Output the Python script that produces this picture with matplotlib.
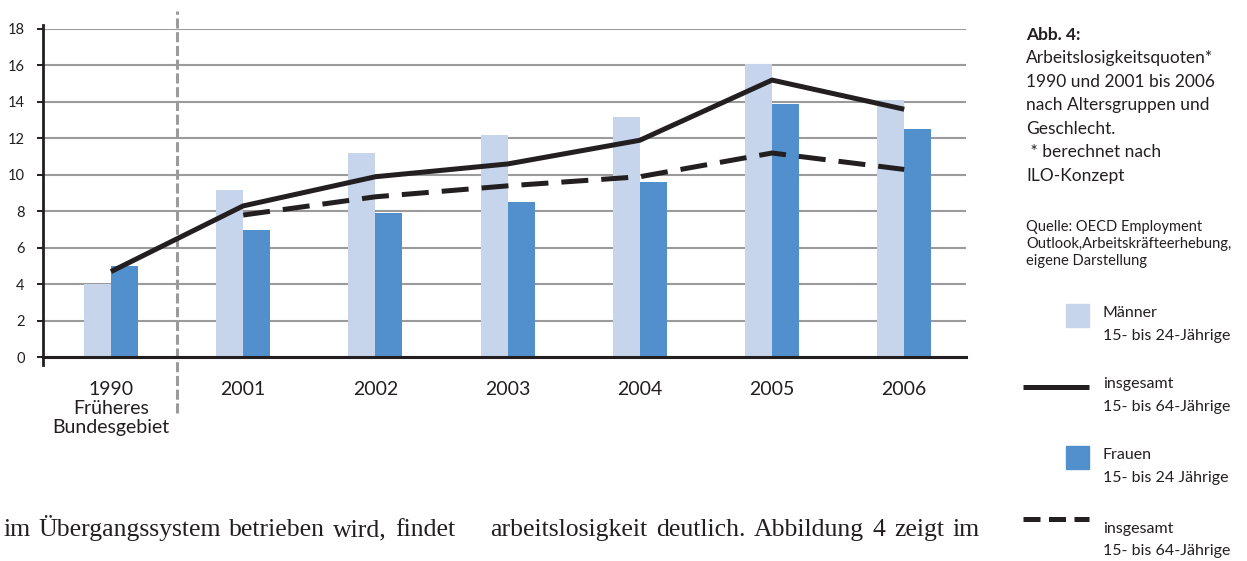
import numpy as np
import matplotlib
matplotlib.use('Agg')
import matplotlib.pyplot as plt
from matplotlib.patches import Rectangle

plt.rcParams['font.family'] = ['Lato', 'DejaVu Sans']

# Daten
categories = ['1990\nFrüheres\nBundesgebiet', '2001', '2002', '2003', '2004', '2005', '2006']
maenner_15_24 = [4.0, 9.2, 11.2, 12.2, 13.2, 16.1, 14.1]
frauen_15_24 = [5.0, 7.0, 7.9, 8.5, 9.6, 13.9, 12.5]
insgesamt_solid = [4.7, 8.3, 9.9, 10.6, 11.9, 15.2, 13.6]      # 1990, 2001-2006
insgesamt_dashed = [7.8, 8.8, 9.4, 9.9, 11.2, 10.3]           # 2001-2006
y_ticks = [0, 2, 4, 6, 8, 10, 12, 14, 16, 18]

title_lines = ['Arbeitslosigkeitsquoten*', '1990 und 2001 bis 2006',
               'nach Altersgruppen und', 'Geschlecht.', ' * berechnet nach', 'ILO-Konzept']
source_lines = ['Quelle: OECD Employment', 'Outlook,Arbeitskräfteerhebung,', 'eigene Darstellung']
legend_labels = ['Männer\n15- bis 24-Jährige', 'insgesamt\n15- bis 64-Jährige',
                 'Frauen\n15- bis 24 Jährige', 'insgesamt\n15- bis 64-Jährige']
body_text = ['im Übergangssystem betrieben wird, findet',
             'arbeitslosigkeit deutlich. Abbildung 4 zeigt im']

LIGHT = '#C7D5EC'
DARK = '#5290CD'
INK = '#231F20'
GRID = '#9B9B9B'

W, H = 1247, 561
fig = plt.figure(figsize=(W / 100, H / 100), dpi=100)

ax = fig.add_axes([43 / W, (H - 357.3) / H, (966 - 43) / W, (357.3 - 29) / H])
ax.set_xlim(-0.514, 6.467)
ax.set_ylim(0, 18)

x = np.arange(len(categories))
w = 0.204
ax.bar(x - w / 2, maenner_15_24, w, color=LIGHT, zorder=2)
ax.bar(x + w / 2, frauen_15_24, w, color=DARK, zorder=2)

ax.plot(x, insgesamt_solid, color=INK, lw=3.6, solid_joinstyle='round',
        solid_capstyle='butt', zorder=5)
ax.plot(x[1:], insgesamt_dashed, color=INK, lw=3.6, dashes=(5.4, 2.6),
        dash_joinstyle='round', zorder=5)

# Raster und Achsen
ax.set_yticks(y_ticks)
ax.yaxis.grid(True, color=GRID, lw=1.5)
ax.set_axisbelow(True)
for s in ax.spines.values():
    s.set_visible(False)
ax.axvline(-0.514, ymin=-0.024, ymax=1.011, color=INK, lw=2, clip_on=False, zorder=4)
ax.axhline(0, color=INK, lw=2.2, clip_on=False, zorder=4)
ax.axvline(0.5, ymin=-3.05 / 18, ymax=19.0 / 18, color=GRID, lw=2.2,
           dashes=(3.3, 1.2), clip_on=False, zorder=1)

ax.set_xticks(x)
ax.set_xticklabels(categories, linespacing=1.15)
ax.tick_params(axis='x', length=0, pad=17, labelsize=14, labelcolor=INK)
ax.tick_params(axis='y', length=4.3, width=1.4, color=INK, pad=9,
               labelsize=10.5, labelcolor=INK)

# Seitenleiste und Fliesstext (Pixelkoordinaten)
tx = fig.add_axes([0, 0, 1, 1])
tx.set_xlim(0, W)
tx.set_ylim(H, 0)
tx.axis('off')

tx.text(1026, 40, 'Abb. 4:', fontsize=12.5, fontweight='bold', color=INK, va='baseline')
for i, line in enumerate(title_lines):
    tx.text(1026, 63 + i * 23.6, line, fontsize=12.5, color=INK, va='baseline')
for i, line in enumerate(source_lines):
    tx.text(1026, 231 + i * 16.8, line, fontsize=10.5, color=INK, va='baseline')

# Legende
tx.add_patch(Rectangle((1066, 304), 23, 23, color=LIGHT))
tx.plot([1023, 1089], [387, 387], color=INK, lw=3.6, solid_capstyle='butt')
tx.add_patch(Rectangle((1066, 446), 23, 23, color=DARK))
tx.plot([1023, 1089], [519, 519], color=INK, lw=3.6, dashes=(3.4, 1.7))
for yb, lab in zip([317, 388, 459, 533], legend_labels):
    top, bottom = lab.split('\n')
    tx.text(1103, yb, top, fontsize=11.5, color=INK, va='baseline')
    tx.text(1103, yb + 22.5, bottom, fontsize=11.5, color=INK, va='baseline')


def justify(text, x0, x1, y):
    # Blocksatz: Woerter gleichmaessig zwischen x0 und x1 verteilen
    words = text.split()
    arts = [tx.text(0, y, wd, family='Liberation Serif', fontsize=18.5,
                    color=INK, va='baseline') for wd in words]
    renderer = fig.canvas.get_renderer()
    widths = [a.get_window_extent(renderer).width for a in arts]
    gap = (x1 - x0 - sum(widths)) / (len(words) - 1)
    pos = x0
    for a, wd in zip(arts, widths):
        a.set_x(pos)
        pos += wd + gap


justify(body_text[0], 3, 455, 536)
justify(body_text[1], 490, 980, 536)

fig.savefig('out.png', dpi=100)
